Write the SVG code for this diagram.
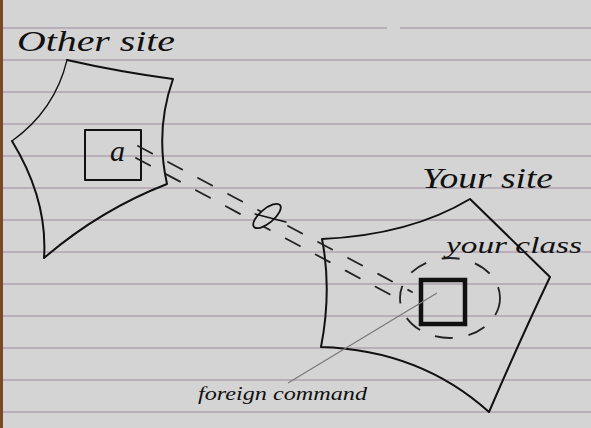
<svg xmlns="http://www.w3.org/2000/svg" width="591" height="428" viewBox="0 0 591 428">
<style>
.rule{stroke:#8c6a8a;stroke-width:1.1;opacity:0.7}
.ink{fill:none;stroke:#111;stroke-width:2;stroke-linecap:round;stroke-linejoin:round}
.thin{fill:none;stroke:#111;stroke-width:1.3;stroke-linecap:round}
.dash{fill:none;stroke:#222;stroke-width:1.8;stroke-dasharray:16 18;stroke-linecap:round}
.hand{font-family:"Liberation Serif",serif;font-style:italic;fill:#111}
</style>
<rect width="591" height="428" fill="#d4d4d4"/>
<rect width="3" height="428" fill="#7a4a22"/>
<g id="paper-lines">
<line class="rule" x1="3" y1="28" x2="387" y2="28"/>
<line class="rule" x1="400" y1="28" x2="591" y2="28"/>
<line class="rule" x1="3" y1="60" x2="591" y2="60"/>
<line class="rule" x1="3" y1="92" x2="591" y2="92"/>
<line class="rule" x1="3" y1="124" x2="591" y2="124"/>
<line class="rule" x1="3" y1="156" x2="591" y2="156"/>
<line class="rule" x1="3" y1="188" x2="591" y2="188"/>
<line class="rule" x1="3" y1="220" x2="591" y2="220"/>
<line class="rule" x1="3" y1="252" x2="591" y2="252"/>
<line class="rule" x1="3" y1="284" x2="591" y2="284"/>
<line class="rule" x1="3" y1="316" x2="591" y2="316"/>
<line class="rule" x1="3" y1="348" x2="591" y2="348"/>
<line class="rule" x1="3" y1="380" x2="591" y2="380"/>
<line class="rule" x1="3" y1="412" x2="591" y2="412"/>
</g>
<g id="other-site">
<path class="ink" d="M67,60 Q120,72 173,79 Q155,130 167,184 Q100,210 44,258 Q48,200 12,141"/>
<path class="thin" d="M12,141 Q55,110 67,60"/>
<text class="hand" x="17" y="51" font-size="30" textLength="158" lengthAdjust="spacingAndGlyphs">Other site</text>
</g>
<g id="object-a">
<rect class="ink" x="85" y="130" width="56" height="50"/>
<text class="hand" x="110" y="161" font-size="30">a</text>
</g>
<g id="your-site">
<path class="ink" d="M322,239 Q410,235 470,199 L550,277 Q520,340 489,412 Q420,350 321,347 Q332,290 322,239"/>
<text class="hand" x="422" y="188" font-size="29" textLength="131" lengthAdjust="spacingAndGlyphs">Your site</text>
</g>
<g id="your-class">
<rect x="421" y="280" width="44" height="44" fill="none" stroke="#111" stroke-width="4.5"/>
<ellipse cx="450" cy="298" rx="50" ry="40" fill="none" stroke="#222" stroke-width="1.8" stroke-dasharray="18 16"/>
<text class="hand" x="446" y="253" font-size="23" textLength="136" lengthAdjust="spacingAndGlyphs">your class</text>
</g>
<g id="connectors">
<line class="dash" x1="138" y1="146" x2="412" y2="292"/>
<line class="dash" x1="136" y1="158" x2="404" y2="302"/>
<ellipse cx="267" cy="216" rx="17" ry="7" transform="rotate(-40 267 216)" fill="#d4d4d4" stroke="#111" stroke-width="1.8"/>
<line class="thin" x1="255" y1="214" x2="286" y2="222"/>
<line x1="437" y1="293" x2="288" y2="383" stroke="#7a7a7a" stroke-width="1.3"/>
</g>
<g id="foreign-command">
<text class="hand" x="198" y="400" font-size="18" textLength="169" lengthAdjust="spacingAndGlyphs">foreign command</text>
</g>
</svg>
